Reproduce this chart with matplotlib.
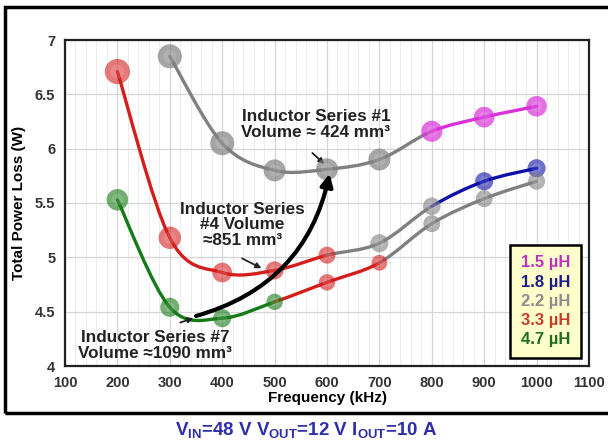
import numpy as np
import matplotlib
matplotlib.use("Agg")
import matplotlib.pyplot as plt
from matplotlib.path import Path
from matplotlib.patches import PathPatch, Rectangle
from matplotlib.lines import Line2D

plt.rcParams['font.family'] = ['Liberation Sans', 'DejaVu Sans']
plt.rcParams['mathtext.fontset'] = 'custom'
plt.rcParams['mathtext.rm'] = 'Liberation Sans:bold'
plt.rcParams['mathtext.it'] = 'Liberation Sans:bold'
plt.rcParams['mathtext.bf'] = 'Liberation Sans:bold'
plt.rcParams['mathtext.default'] = 'rm'

# ---------------- data ----------------
# Inductor Series #1 (300-1000 kHz)
s1_freq = [300, 400, 500, 600, 700, 800, 900, 1000]
s1_loss = [6.85, 6.05, 5.80, 5.81, 5.90, 6.16, 6.29, 6.39]
s1_ind = ['2.2', '2.2', '2.2', '2.2', '2.2', '1.5', '1.5', '1.5']

# Inductor Series #4
s4_freq = [200, 300, 400, 500, 600, 700, 800, 900, 1000]
s4_loss = [6.71, 5.18, 4.86, 4.88, 5.02, 5.13, 5.47, 5.70, 5.82]
s4_ind = ['3.3', '3.3', '3.3', '3.3', '3.3', '2.2', '2.2', '1.8', '1.8']

# Inductor Series #7
s7_freq = [200, 300, 400, 500, 600, 700, 800, 900, 1000]
s7_loss = [5.53, 4.54, 4.44, 4.59, 4.77, 4.95, 5.31, 5.54, 5.70]
s7_ind = ['4.7', '4.7', '4.7', '4.7', '3.3', '3.3', '2.2', '2.2', '2.2']

inductances = ['1.5', '1.8', '2.2', '3.3', '4.7']
legend_labels = ['1.5 µH', '1.8 µH', '2.2 µH', '3.3 µH', '4.7 µH']
colors = {'1.5': '#D930D9', '1.8': '#1010A8', '2.2': '#808080',
          '3.3': '#D41E1E', '4.7': '#167A16'}
text_colors = {'1.5': '#C030C0', '1.8': '#1C1C8C', '2.2': '#8C8C8C',
               '3.3': '#C83C2C', '4.7': '#1E6E1E'}

x_ticks = [100, 200, 300, 400, 500, 600, 700, 800, 900, 1000, 1100]
y_ticks = [4, 4.5, 5, 5.5, 6, 6.5, 7]
y_tick_labels = ['4', '4.5', '5', '5.5', '6', '6.5', '7']

# ---------------- figure ----------------
fig = plt.figure(figsize=(6.08, 4.43), dpi=100)
ax = fig.add_axes([65/608, 1-366/443, (589-65)/608, (366-40)/443])
ax.set_xlim(100, 1100)
ax.set_ylim(4, 7)
ax.set_xticks(x_ticks)
ax.set_xticks(np.arange(100, 1101, 20), minor=True)
ax.set_yticks(y_ticks)
ax.set_yticklabels(y_tick_labels)
ax.grid(True, which='major', color='#D6D6D6', lw=0.9)
ax.grid(True, which='minor', axis='x', color='#EDEDED', lw=0.7)
ax.set_axisbelow(True)
ax.tick_params(which='both', length=0, labelsize=10.5, labelcolor='#333333', pad=7)
for lab in ax.get_xticklabels() + ax.get_yticklabels():
    lab.set_fontweight('bold')
for sp in ax.spines.values():
    sp.set_color('#222222')
    sp.set_linewidth(1.6)
ax.set_xlabel('Frequency (kHz)', fontsize=11, fontweight='bold', labelpad=1)
ax.set_ylabel('Total Power Loss (W)', fontsize=11, fontweight='bold', labelpad=6)


def smooth_segments(xs, ys, seg_inds, lw=2.4):
    """Smoothed line (Catmull-Rom as cubic Bezier); seg_inds[i] colours segment i->i+1."""
    pts = np.column_stack([np.asarray(xs, float), np.asarray(ys, float)])
    n = len(pts)
    for i in range(n - 1):
        p0 = pts[i - 1] if i > 0 else pts[i]
        p1 = pts[i]
        p2 = pts[i + 1]
        p3 = pts[i + 2] if i + 2 < n else pts[i + 1]
        c1 = p1 + (p2 - p0) / 6.0
        c2 = p2 - (p3 - p1) / 6.0
        path = Path([p1, c1, c2, p2], [Path.MOVETO, Path.CURVE4, Path.CURVE4, Path.CURVE4])
        ax.add_patch(PathPatch(path, fc='none', ec=colors[seg_inds[i]], lw=lw,
                               zorder=3, capstyle='round'))


def markers(xs, ys, inds, sizes, alpha=0.6):
    for x, y, ind, s in zip(xs, ys, inds, sizes):
        c = colors[ind]
        ax.scatter([x], [y], s=s, color=c, alpha=alpha, edgecolors='none', zorder=4)
        ax.scatter([x], [y], s=s * 0.3, color='white', alpha=0.12,
                   edgecolors='none', zorder=5)


# series #1 : gray up to 800, then magenta
smooth_segments(s1_freq, s1_loss, ['2.2', '2.2', '2.2', '2.2', '2.2', '1.5', '1.5'])
markers(s1_freq, s1_loss, s1_ind, [300, 300, 250, 250, 250, 230, 220, 220], alpha=0.7)

# series #4 : red to 600, gray 600-800, blue 800-1000
smooth_segments(s4_freq, s4_loss, ['3.3', '3.3', '3.3', '3.3', '2.2', '2.2', '1.8', '1.8'])
markers(s4_freq, s4_loss, s4_ind, [330, 260, 200, 170, 150, 170, 160, 170, 170])

# series #7 : green to 500, red 500-700, gray 700-1000
smooth_segments(s7_freq, s7_loss, ['4.7', '4.7', '4.7', '3.3', '3.3', '2.2', '2.2', '2.2'])
markers(s7_freq, s7_loss, s7_ind, [240, 190, 170, 140, 140, 130, 150, 150, 150])

# big black arrow
ax.annotate('', xy=(605, 5.77), xytext=(350, 4.46),
            arrowprops=dict(arrowstyle='-|>', lw=3, color='black',
                            connectionstyle='arc3,rad=0.3', mutation_scale=18,
                            shrinkA=0, shrinkB=0), zorder=6)

# annotations
tkw = dict(fontsize=12.3, fontweight='bold', ha='center', va='center',
           color='#222222', zorder=7, linespacing=1.05)
ax.text(579, 6.22, 'Inductor Series #1\nVolume ≈ 424 mm³', **tkw)
ax.annotate('', xy=(595, 5.86), xytext=(572, 5.96),
            arrowprops=dict(arrowstyle='-|>', lw=1.3, color='#222222',
                            mutation_scale=8, shrinkA=0, shrinkB=0))
ax.text(438, 5.30, 'Inductor Series\n#4 Volume\n≈851 mm³', **tkw)
ax.annotate('', xy=(475, 4.90), xytext=(438, 4.99),
            arrowprops=dict(arrowstyle='-|>', lw=1.3, color='#222222',
                            mutation_scale=8, shrinkA=0, shrinkB=0))
ax.text(272, 4.19, 'Inductor Series #7\nVolume ≈1090 mm³', **tkw)
ax.annotate('', xy=(345, 4.44), xytext=(320, 4.40),
            arrowprops=dict(arrowstyle='-|>', lw=1.3, color='#222222',
                            mutation_scale=8, shrinkA=0, shrinkB=0))

# legend
handles = [Line2D([], [], color=colors[k], lw=0) for k in inductances]
leg = ax.legend(handles, legend_labels, loc='lower right',
                bbox_to_anchor=(0.985, 0.025), borderaxespad=0,
                handlelength=0, handletextpad=0,
                frameon=True, fancybox=False, facecolor='#FFFFCC',
                edgecolor='black', framealpha=1, labelspacing=0.25,
                borderpad=0.65, prop={'weight': 'bold', 'size': 12})
for t, k in zip(leg.get_texts(), inductances):
    t.set_color(text_colors[k])
leg.get_frame().set_linewidth(1.8)
leg.set_zorder(10)

# outer frame
fig.patches.append(Rectangle((5/608, 1-413/443), 1.2, (413-7)/443,
                             transform=fig.transFigure, fill=False,
                             ec='black', lw=2.5))

fig.text(306/608, 1-430/443,
         r'$V_{IN}\text{=48 V }V_{OUT}\text{=12 V }I_{OUT}\text{=10 A}$',
         ha='center', va='center', fontsize=13.5, color='#2E2EA8')

fig.savefig('out.png', dpi=100)
